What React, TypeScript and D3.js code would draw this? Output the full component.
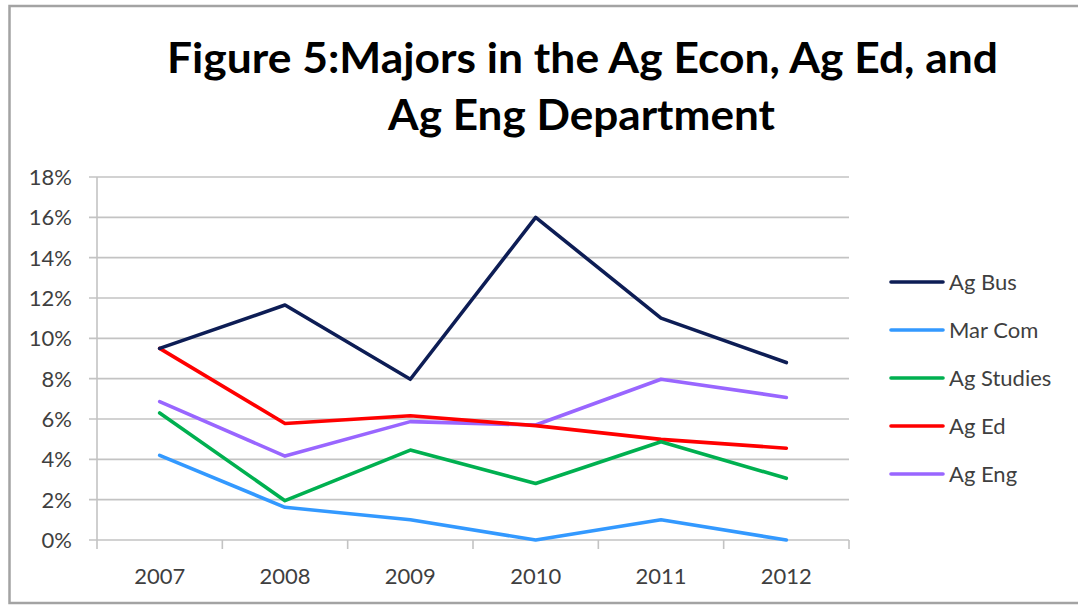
import React from "react";
import * as d3 from "d3";

const years = ["2007", "2008", "2009", "2010", "2011", "2012"];
const agBus = [0.095, 0.1165, 0.0797, 0.16, 0.11, 0.088];
const marCom = [0.042, 0.0162, 0.01, 0.0, 0.01, 0.0];
const agStudies = [0.063, 0.0195, 0.0446, 0.028, 0.0487, 0.0306];
const agEd = [0.095, 0.0578, 0.0616, 0.0567, 0.0499, 0.0455];
const agEng = [0.0686, 0.0416, 0.0587, 0.057, 0.0797, 0.0707];
const yTicks = [0, 0.02, 0.04, 0.06, 0.08, 0.1, 0.12, 0.14, 0.16, 0.18];
const titleLines = ["Figure 5:Majors in the Ag Econ, Ag Ed, and", "Ag Eng Department"];

const series = [
  { name: "Ag Bus", values: agBus, color: "#0d1d55" },
  { name: "Mar Com", values: marCom, color: "#3399ff" },
  { name: "Ag Studies", values: agStudies, color: "#00b050" },
  { name: "Ag Ed", values: agEd, color: "#ff0000" },
  { name: "Ag Eng", values: agEng, color: "#9966ff" },
];

const W = 1078;
const H = 605;
const plotL = 97;
const plotR = 849;
const plotT = 177;
const plotB = 540;
const font = "Lato, 'Open Sans', sans-serif";

export default function App() {
  const x = d3.scaleBand<string>().domain(years).range([plotL, plotR]).paddingInner(0).paddingOuter(0);
  const y = d3.scaleLinear().domain([0, 0.18]).range([plotB, plotT]);
  const cx = (yr: string) => (x(yr) as number) + x.bandwidth() / 2;
  const line = d3
    .line<number>()
    .x((_, i) => cx(years[i]))
    .y((v) => y(v));
  const fmt = d3.format(".0%");
  const boundaries = years.map((yr) => (x(yr) as number) + x.bandwidth());

  return (
    <div style={{ position: "fixed", left: 0, top: 0, width: W, height: H, background: "#fff" }}>
      <svg width={W} height={H} style={{ display: "block" }}>
        <rect x={0} y={0} width={W} height={H} fill="#fff" />
        <rect x={9.5} y={6} width={W + 20} height={597} fill="none" stroke="#a3a3a3" strokeWidth={2.5} />
        {/* title */}
        <text x={582.5} y={73} textAnchor="middle" fontFamily={font} fontWeight={700} fontSize={42} fill="#000"
          textLength={831} lengthAdjust="spacingAndGlyphs">
          {titleLines[0]}
        </text>
        <text x={581.5} y={130} textAnchor="middle" fontFamily={font} fontWeight={700} fontSize={42} fill="#000"
          textLength={387} lengthAdjust="spacingAndGlyphs">
          {titleLines[1]}
        </text>
        {/* gridlines and y ticks */}
        {yTicks.map((t) => (
          <g key={t}>
            <line x1={89} x2={plotR} y1={y(t)} y2={y(t)} stroke="#c3c3c3" strokeWidth={1.6} />
            <text x={72} y={y(t)} dy="0.36em" textAnchor="end" fontFamily={font} fontSize={22} fill="#3f3f3f">
              {fmt(t)}
            </text>
          </g>
        ))}
        {/* y axis line */}
        <line x1={plotL} x2={plotL} y1={plotT} y2={549} stroke="#c3c3c3" strokeWidth={1.6} />
        {/* x ticks */}
        {boundaries.map((b, i) => (
          <line key={i} x1={b} x2={b} y1={plotB} y2={549} stroke="#c3c3c3" strokeWidth={1.6} />
        ))}
        {years.map((yr) => (
          <text key={yr} x={cx(yr)} y={584} textAnchor="middle" fontFamily={font} fontSize={22} fill="#3f3f3f">
            {yr}
          </text>
        ))}
        {/* lines (draw order so Ag Bus on top) */}
        {[...series].reverse().map((s) => (
          <path key={s.name} d={line(s.values) || ""} fill="none" stroke={s.color} strokeWidth={3.6}
            strokeLinejoin="round" strokeLinecap="round" />
        ))}
        {/* legend */}
        {series.map((s, i) => {
          const ly = 282 + i * 48;
          return (
            <g key={s.name}>
              <line x1={891} x2={943} y1={ly} y2={ly} stroke={s.color} strokeWidth={3.6} strokeLinecap="round" />
              <text x={949} y={ly} dy="0.36em" fontFamily={font} fontSize={22} fill="#3f3f3f">
                {s.name}
              </text>
            </g>
          );
        })}
      </svg>
    </div>
  );
}
